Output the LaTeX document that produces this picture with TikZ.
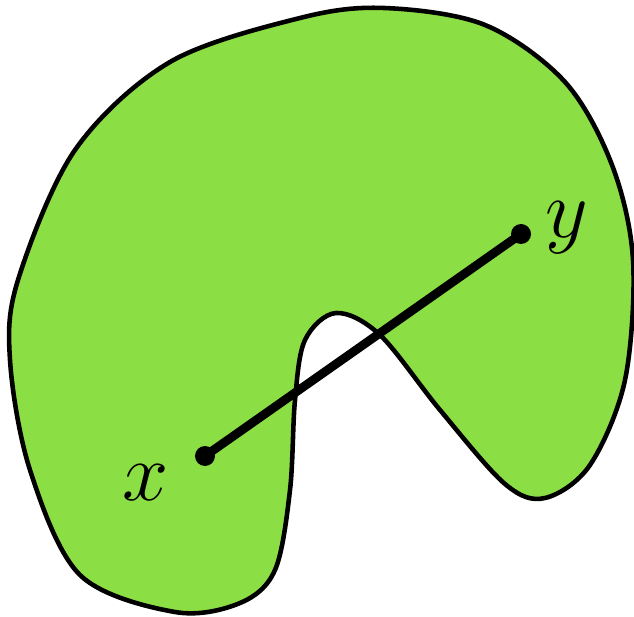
\documentclass[tikz,border=0pt]{standalone}
\usetikzlibrary{positioning}
\definecolor{setGreen}{HTML}{8CDE45}
\tikzset{
  set outline/.style={draw=black, fill=setGreen, line width=2.6pt, line join=round},
  set point/.style={circle, fill=black, minimum size=0.4cm, inner sep=0pt},
  set segment/.style={draw=black, line width=5pt},
  set label/.style={font=\Huge, scale=1.9, inner sep=0pt},
}
\begin{document}
\begin{tikzpicture}[x=0.02cm, y=-0.02cm]
  \useasboundingbox (0,0) rectangle (634,617);
  % The non-convex set, traced through its outline
  \draw[set outline] plot[smooth cycle, tension=0.55] coordinates {
    (175,612) (80,575) (30,470) (10,360) (18,280) (75,150) (170,62)
    (300,18) (384,8) (485,25) (565,82) (612,165) (633,260) (625,380)
    (590,465) (545,498) (505,484) (440,410) (380,335) (336,313)
    (305,340) (295,400) (290,490) (275,570) (240,603)};
  % The two points and the segment that leaves the set
  \node[set point] (x) at (205,456) {};
  \node[set point] (y) at (521,234) {};
  \draw[set segment] (x.center) -- (y.center);
  \node[set label] (xlab) at (146,483) {$x$};
  \node[set label] (ylab) at (567,228) {$y$};
\end{tikzpicture}
\end{document}
